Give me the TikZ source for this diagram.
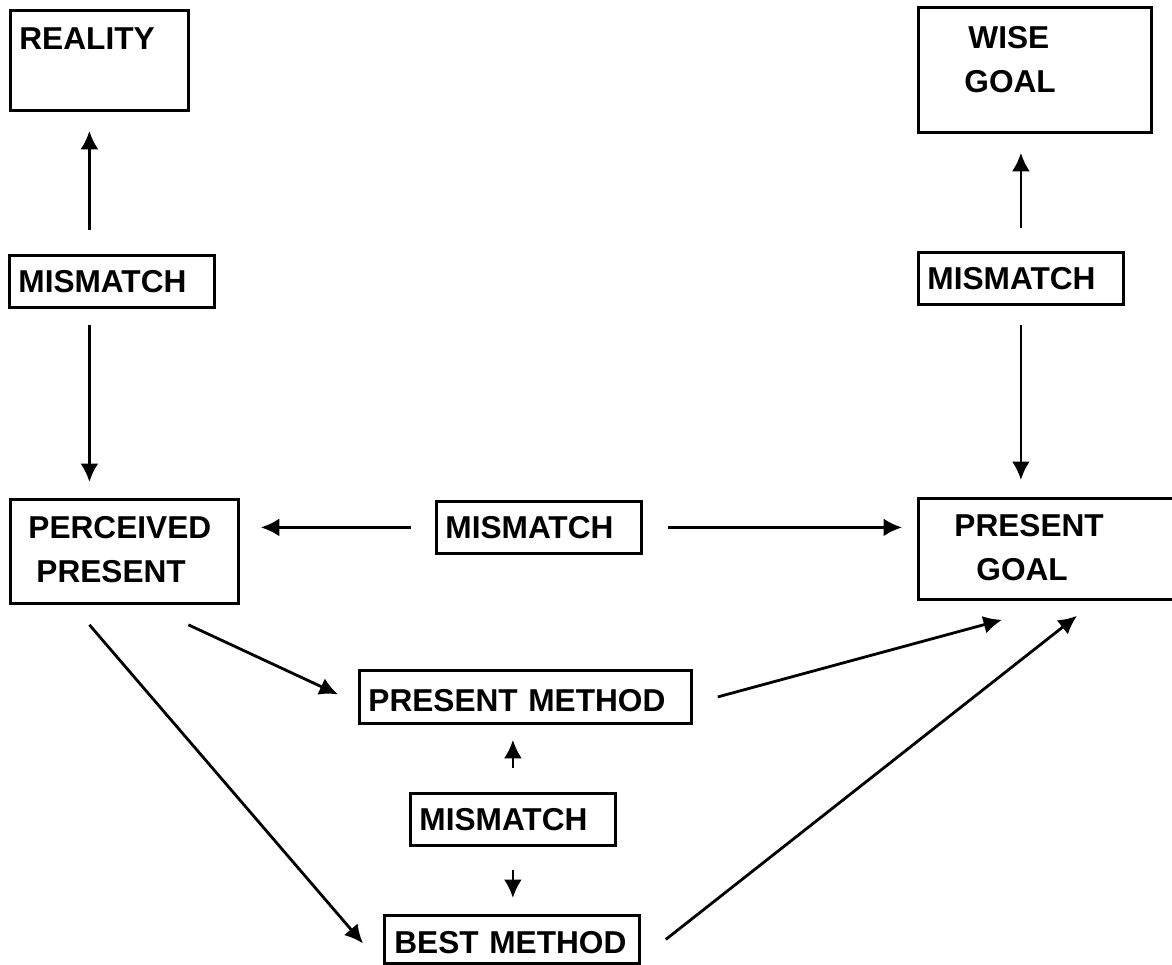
\documentclass[tikz,border=0pt]{standalone}
\usepackage{fontspec}
\setmainfont{Liberation Sans}
\usetikzlibrary{arrows.meta}

\begin{document}
\begin{tikzpicture}[->,>={Latex[length=0.37cm,width=0.36cm]},line width=1.6pt]
\tikzstyle{every node}=[font=\fontsize{18pt}{0.88cm}\selectfont\bfseries]
\tikzstyle{box}=[draw=black,rectangle,anchor=north west,align=left,inner ysep=0pt]
\tikzstyle{mis}=[box,inner xsep=0.18cm,text width=3.74cm,text height=0.74cm,text depth=0.3cm]
\clip (0,0) rectangle (23.44,-19.28);
% boxes
\node[box,inner xsep=0.18cm,text width=3.2cm,text height=0.78cm,text depth=1.22cm] (real) at (0.18,-0.18) {REALITY};
\node[box,inner xsep=0.92cm,text width=2.82cm,text height=0.82cm,text depth=1.68cm] (wise) at (18.34,-0.12) {\hspace*{0.08cm}WISE\\GOAL};
\node[mis] (m1) at (0.16,-5.08) {MISMATCH};
\node[mis] (m2) at (18.34,-5.02) {MISMATCH};
\node[box,inner xsep=0.36cm,text width=3.84cm,text height=0.78cm,text depth=1.3cm] (pp) at (0.18,-9.96) {PERCEIVED\\\hspace*{0.16cm}PRESENT};
\node[mis] (mid) at (8.7,-10.0) {MISMATCH};
\node[box,inner xsep=0.72cm,text width=4.22cm,text height=0.76cm,text depth=1.26cm] (pg) at (18.34,-9.94) {PRESENT\\\hspace*{0.44cm}GOAL};
\node[box,inner xsep=0.18cm,text width=6.28cm,text height=0.82cm,text depth=0.24cm] (pm) at (7.16,-13.38) {PRESENT METHOD};
\node[mis] (mbot) at (8.18,-15.84) {MISMATCH};
\node[box,inner xsep=0.2cm,text width=4.7cm,text height=0.76cm,text depth=0.2cm] (bm) at (7.66,-18.28) {BEST METHOD};
% arrows
\path ([xshift=-0.45cm,yshift=0.48cm]m1.north) edge ([xshift=-0.45cm,yshift=-0.38cm]m1.north |- real.south)
      ([xshift=-0.45cm,yshift=-0.32cm]m1.south) edge ([xshift=-0.45cm,yshift=0.32cm]m1.south |- pp.north)
      ([yshift=0.46cm]m2.north) edge ([yshift=-0.38cm]m2.north |- wise.south)
      ([yshift=-0.38cm]m2.south) edge ([yshift=0.34cm]m2.south |- pg.north)
      ([xshift=-0.48cm]mid.west) edge ([xshift=0.42cm]mid.west -| pp.east)
      ([xshift=0.5cm]mid.east) edge ([xshift=-0.3cm]mid.east -| pg.west)
      ([xshift=1.28cm,yshift=-0.4cm]pp.south) edge ([xshift=-0.4cm,yshift=0.05cm]pm.west)
      ([xshift=-0.7cm,yshift=-0.4cm]pp.south) edge ([xshift=-0.4cm,yshift=-0.08cm]bm.west)
      ([xshift=0.5cm]pm.east) edge ([xshift=1.7cm,yshift=-0.38cm]pg.south west)
      ([xshift=0.5cm]bm.east) edge ([xshift=3.2cm,yshift=-0.3cm]pg.south west)
      ([yshift=0.48cm]mbot.north) edge ([yshift=-0.3cm]mbot.north |- pm.south)
      ([yshift=-0.46cm]mbot.south) edge ([yshift=0.32cm]mbot.south |- bm.north);
\end{tikzpicture}
\end{document}
